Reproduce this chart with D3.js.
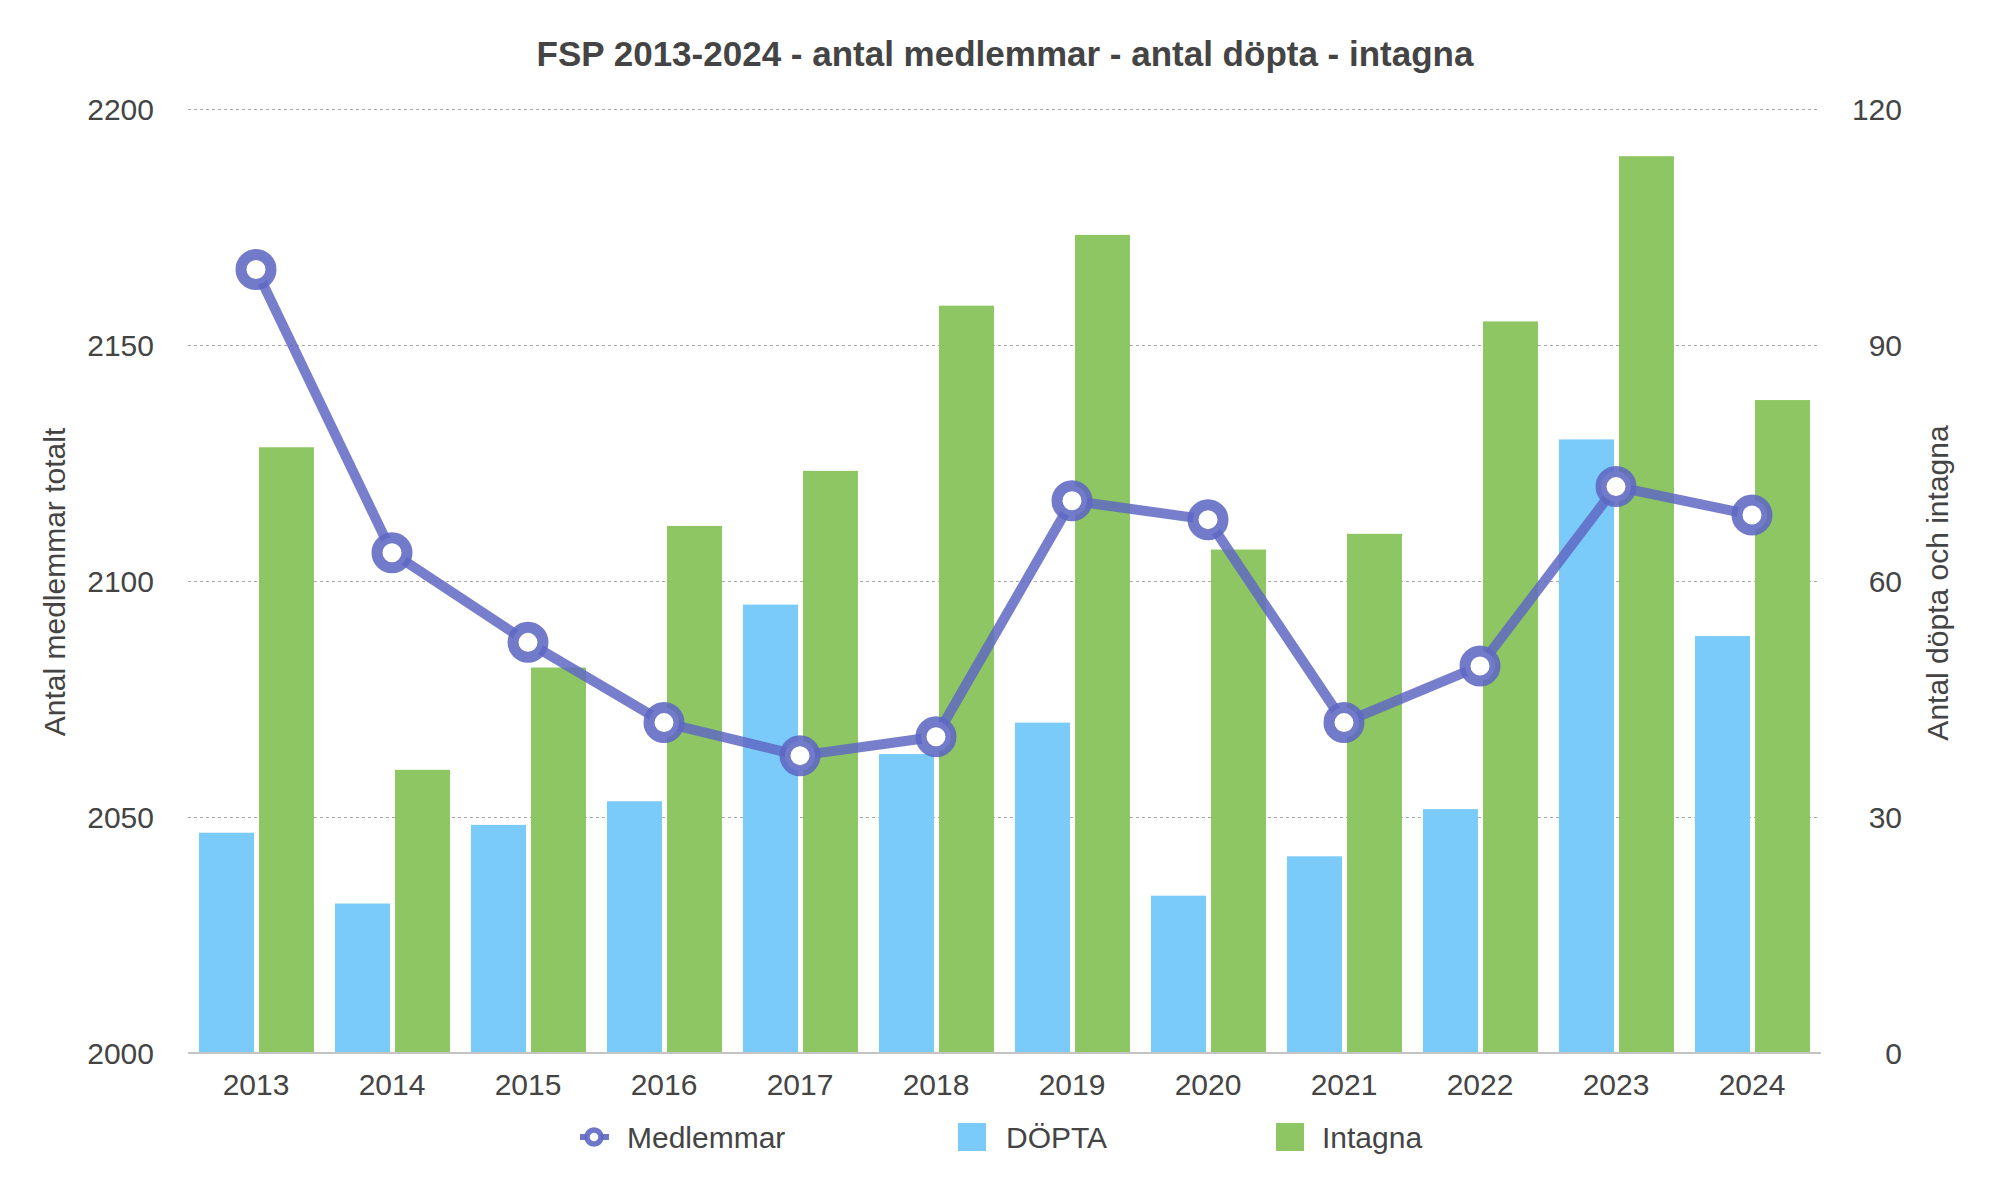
<!DOCTYPE html>
<html>
<head>
<meta charset="utf-8">
<script src="https://cdn.jsdelivr.net/npm/d3@7"></script>
<style>
  html, body { margin: 0; padding: 0; background: #fff; }
  svg { display: block; }
  text { font-family: "Liberation Sans", Helvetica, Arial, sans-serif; fill: #444; }
</style>
</head>
<body>
<svg id="chart" width="1992" height="1188"></svg>
<script>
// ---- data ----
const years = ["2013","2014","2015","2016","2017","2018","2019","2020","2021","2022","2023","2024"];
const medlemmar = [2166, 2106, 2087, 2070, 2063, 2067, 2117, 2113, 2070, 2082, 2120, 2114];
const dopta = [28, 19, 29, 32, 57, 38, 42, 20, 25, 31, 78, 53];
const intagna = [77, 36, 49, 67, 74, 95, 104, 64, 66, 93, 114, 83];
const leftTicks = [2000, 2050, 2100, 2150, 2200];
const rightTicks = [0, 30, 60, 90, 120];
const titleText = "FSP 2013-2024 - antal medlemmar - antal döpta - intagna";
const leftTitle = "Antal medlemmar totalt";
const rightTitle = "Antal döpta och intagna";
const seriesNames = ["Medlemmar", "DÖPTA", "Intagna"];

// ---- layout ----
const W = 1992, H = 1188;
const L = 188, R = 1820, T = 109, B = 1053;
const colLine = "rgb(95,104,195)";
const colBlue = "#7bcbfa";
const colGreen = "#8dc662";

const svg = d3.select("#chart");

const x = d3.scaleBand().domain(years).range([L, R]).padding(0);
const x1 = d3.scaleBand().domain(["d", "i"]).range([11, x.bandwidth() - 10]).paddingInner(5 / 60).paddingOuter(0);
const yL = d3.scaleLinear().domain([2000, 2200]).range([B, T]);
const yR = d3.scaleLinear().domain([0, 120]).range([B, T]);

// gridlines
const grid = svg.append("g").attr("transform", `translate(${L},0)`)
  .call(d3.axisLeft(yL).tickValues(leftTicks.slice(1)).tickSize(-(R - L)).tickFormat(""));
grid.select(".domain").remove();
grid.selectAll("line").attr("stroke", "#a8a8a8").attr("stroke-width", 1.2).attr("stroke-dasharray", "3,3");

// bars
const bars = svg.append("g");
bars.selectAll("rect.d").data(years).join("rect")
  .attr("x", d => x(d) + x1("d")).attr("width", x1.bandwidth())
  .attr("y", (d, i) => yR(dopta[i])).attr("height", (d, i) => B - yR(dopta[i]))
  .attr("fill", colBlue);
bars.selectAll("rect.i").data(years).join("rect")
  .attr("x", d => x(d) + x1("i")).attr("width", x1.bandwidth())
  .attr("y", (d, i) => yR(intagna[i])).attr("height", (d, i) => B - yR(intagna[i]))
  .attr("fill", colGreen);

// x axis
const xa = svg.append("g").attr("transform", `translate(0,${B})`)
  .call(d3.axisBottom(x).tickSize(0).tickPadding(0));
xa.select(".domain").attr("stroke", "#c4c4c4").attr("stroke-width", 2.2).attr("d", `M${L},0H${R + 1}`);
xa.selectAll("text").attr("font-size", 30).attr("dy", null).attr("y", 42).attr("fill", "#444")
  .style("font-family", '"Liberation Sans", Helvetica, Arial, sans-serif');

// left axis labels
const la = svg.append("g").attr("transform", `translate(${L},0)`)
  .call(d3.axisLeft(yL).tickValues(leftTicks).tickSize(0).tickPadding(34).tickFormat(d3.format("d")));
la.select(".domain").remove();
la.selectAll("text").attr("font-size", 30).attr("dy", "0.35em").attr("fill", "#444")
  .style("font-family", '"Liberation Sans", Helvetica, Arial, sans-serif');

// right axis labels (right aligned at 1902)
const ra = svg.append("g").attr("transform", `translate(1902,0)`)
  .call(d3.axisLeft(yR).tickValues(rightTicks).tickSize(0).tickPadding(0).tickFormat(d3.format("d")));
ra.select(".domain").remove();
ra.selectAll("text").attr("font-size", 30).attr("dy", "0.35em").attr("fill", "#444")
  .style("font-family", '"Liberation Sans", Helvetica, Arial, sans-serif');

// line
const line = d3.line().x((d, i) => x(years[i]) + x.bandwidth() / 2).y(d => yL(d));
const lg = svg.append("g").attr("opacity", 0.85);
lg.append("path").datum(medlemmar).attr("d", line)
  .attr("fill", "none").attr("stroke", colLine).attr("stroke-width", 10).attr("stroke-linejoin", "round");
svg.append("g").selectAll("circle").data(medlemmar).join("circle")
  .attr("cx", (d, i) => x(years[i]) + x.bandwidth() / 2).attr("cy", d => yL(d))
  .attr("r", 15).attr("fill", "#fff").attr("stroke", colLine).attr("stroke-opacity", 0.88).attr("stroke-width", 11);

// title
svg.append("text").attr("x", 1005).attr("y", 66).attr("text-anchor", "middle")
  .attr("font-size", 35).attr("font-weight", "bold").attr("fill", "#444").text(titleText);

// axis titles
svg.append("text").attr("transform", "translate(65,582) rotate(-90)").attr("text-anchor", "middle")
  .attr("font-size", 30).text(leftTitle);
svg.append("text").attr("transform", "translate(1948,583) rotate(-90)").attr("text-anchor", "middle")
  .attr("font-size", 30).text(rightTitle);

// legend
const leg = svg.append("g");
const ly = 1137;
leg.append("line").attr("x1", 580).attr("x2", 609).attr("y1", ly).attr("y2", ly)
  .attr("stroke", colLine).attr("stroke-width", 6).attr("opacity", 0.9);
leg.append("circle").attr("cx", 594).attr("cy", ly).attr("r", 7).attr("fill", "#fff")
  .attr("stroke", colLine).attr("stroke-width", 5.5).attr("stroke-opacity", 0.9);
leg.append("text").attr("x", 627).attr("y", ly + 11).attr("font-size", 30).text(seriesNames[0]);
leg.append("rect").attr("x", 958).attr("y", ly - 14).attr("width", 28).attr("height", 28).attr("fill", colBlue);
leg.append("text").attr("x", 1006).attr("y", ly + 11).attr("font-size", 30).text(seriesNames[1]);
leg.append("rect").attr("x", 1276).attr("y", ly - 14).attr("width", 28).attr("height", 28).attr("fill", colGreen);
leg.append("text").attr("x", 1322).attr("y", ly + 11).attr("font-size", 30).text(seriesNames[2]);
</script>
</body>
</html>
